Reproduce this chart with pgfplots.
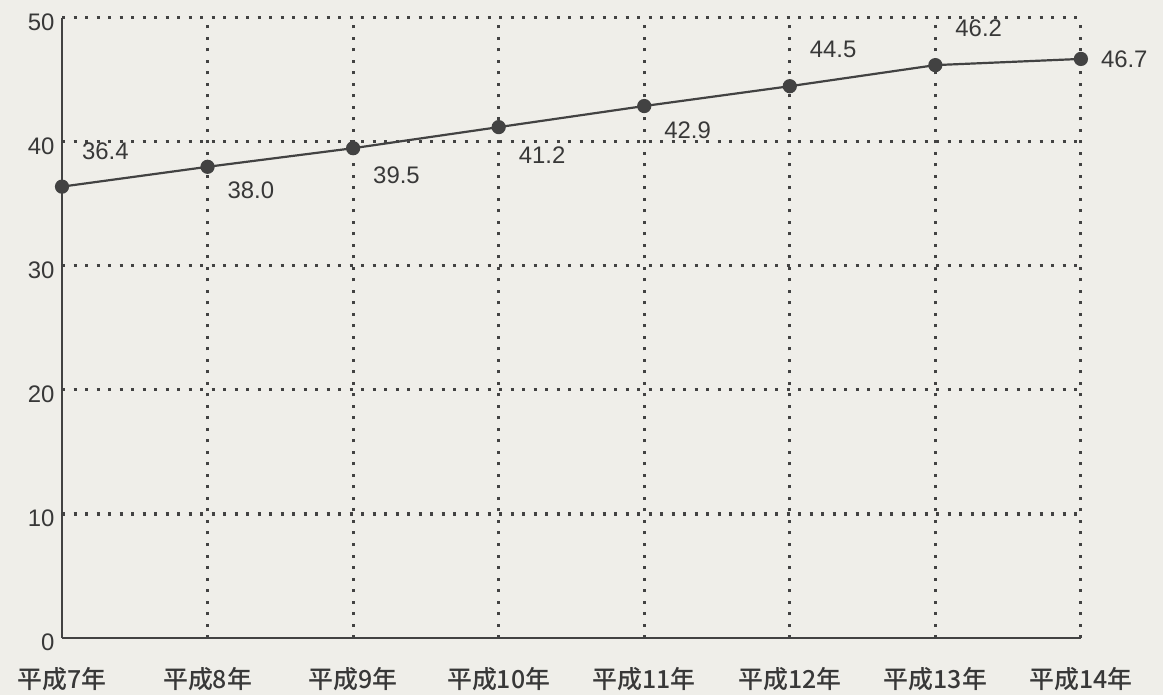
\documentclass[border=0pt]{standalone}
\usepackage{fontspec}
\setmainfont{Liberation Sans}
\newfontfamily\jp{Noto Sans CJK JP Medium}
\usepackage{pgfplots}
\pgfplotsset{compat=1.18}
\definecolor{bg}{HTML}{EFEEE9}
\definecolor{ink}{HTML}{424242}
\definecolor{txt}{HTML}{383838}

\begin{document}
\begin{tikzpicture}
\path[use as bounding box, fill=bg] (-62bp,-57bp) rectangle (1101bp,638bp);
\begin{axis}[
  at={(0,0)}, anchor=south west,
  scale only axis, width=1019bp, height=620bp,
  xmin=0, xmax=7, ymin=0, ymax=50,
  axis x line*=bottom, axis y line*=left,
  axis line style={ink, line width=2.2bp},
  major tick length=0pt, minor tick length=0pt,
  xtick={0,...,7}, ytick={0,10,...,50},
  minor xtick={1,...,7}, minor ytick={10,20,...,50},
  xticklabels={平成7年,平成8年,平成9年,平成10年,平成11年,平成12年,平成13年,平成14年},
  xticklabel style={font=\jp\fontsize{25}{29}\selectfont, text=txt, yshift=-26bp},
  yticklabel style={font=\fontsize{24}{28}\selectfont, text=txt, xshift=-4bp, yshift=-4bp},
  /pgf/number format/assume math mode=true,
  grid=minor,
  minor grid style={ink, line width=3bp, dash pattern=on 3bp off 8.5bp},
  clip=false,
]
\addplot[ink, line width=2.2bp, mark=*, mark size=6bp,
  mark options={fill=ink, draw=ink},
  nodes near coords={\pgfmathprintnumber[fixed,precision=1,fixed zerofill]{\pgfplotspointmeta}},
  point meta=explicit,
  visualization depends on={\thisrow{dy} \as \dy},
  every node near coord/.append style={font=\fontsize{24}{28}\selectfont, text=txt,
    anchor=west, inner sep=0pt, xshift=19bp, yshift=\dy bp},
] table[x=x, y=y, meta=y] {
x y    dy
0 36.4 35
1 38.0 -23
2 39.5 -27
3 41.2 -28
4 42.9 -24
5 44.5 37
6 46.2 37
7 46.7 0
};
\end{axis}
\end{tikzpicture}
\end{document}
